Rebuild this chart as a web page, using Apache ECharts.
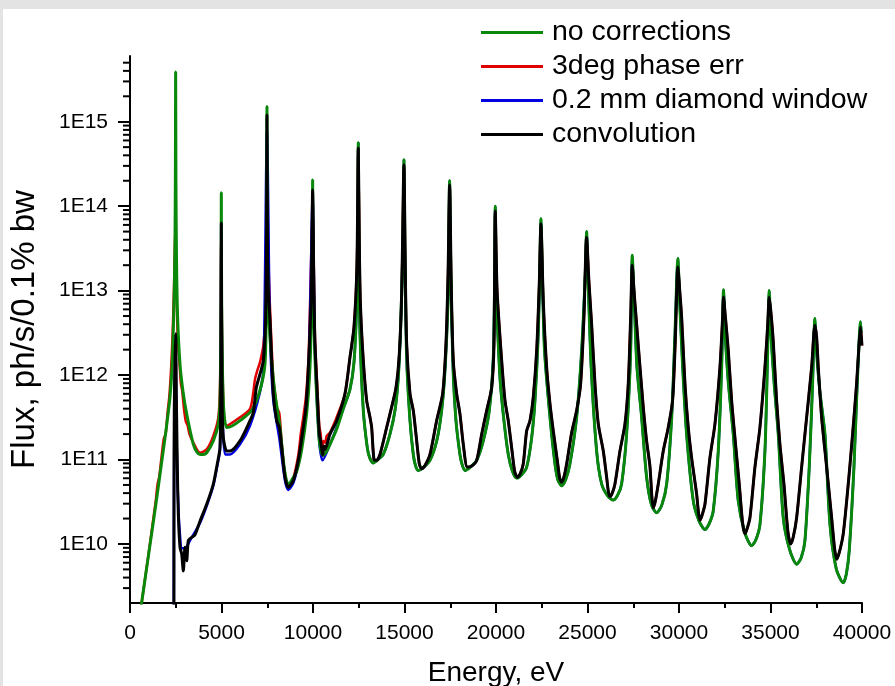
<!DOCTYPE html>
<html>
<head>
<meta charset="utf-8">
<script src="https://cdn.jsdelivr.net/npm/echarts@6.0.0/dist/echarts.min.js"></script>
<style>
  html, body { margin: 0; padding: 0; background: #e3e3e3; }
  #chart { position: absolute; left: 3px; top: 9px; width: 892px; height: 677px; background: #fff; }
</style>
</head>
<body>
<div id="chart"></div>
<script>
// flux values as [energy eV, log10(flux)]
const legendNames = ['no corrections', '3deg phase err', '0.2 mm diamond window', 'convolution']
const yDecades = [9, 10, 11, 12, 13, 14, 15]
const yMinorSteps = [2, 3, 4, 5, 6, 7, 8, 9]

const noCorrections = [
  [560, 9.18], [640, 9.31], [1000, 9.85], [1400, 10.45], [1732, 10.97], [2000, 11.4], [2186, 11.74],
  [2300, 12.1], [2366, 12.53], [2420, 13.0], [2459, 13.6], [2480, 14.4], [2495, 15.59], [2510, 14.3],
  [2540, 13.4], [2600, 12.7], [2732, 12.13], [2900, 11.8], [3098, 11.54], [3460, 11.18], [3650, 11.09],
  [3825, 11.06], [4000, 11.06], [4190, 11.08], [4552, 11.22], [4826, 11.42], [4920, 11.7], [4960, 12.3],
  [4980, 13.0], [4990, 14.16], [5005, 13.0], [5040, 12.2], [5120, 11.6], [5283, 11.38], [5600, 11.4],
  [6010, 11.46], [6650, 11.58], [7103, 11.82], [7376, 12.13], [7440, 12.7], [7470, 13.6], [7485, 15.18],
  [7500, 13.8], [7560, 12.8], [7742, 12.17], [7923, 11.78], [8196, 11.38], [8378, 10.99], [8520, 10.78],
  [8650, 10.7], [8900, 10.78], [9109, 10.86], [9382, 11.12], [9655, 11.55], [9835, 12.1], [9920, 12.8],
  [9965, 13.6], [9980, 14.31], [9995, 13.6], [10040, 12.8], [10108, 12.2], [10236, 11.6], [10345, 11.22],
  [10450, 11.09], [10560, 11.05], [10720, 11.09], [10928, 11.18], [11293, 11.36], [11655, 11.6],
  [12020, 11.83], [12240, 12.15], [12380, 12.8], [12450, 13.8], [12475, 14.75], [12500, 13.7],
  [12567, 12.5], [12750, 11.58], [12967, 11.14], [13100, 11.02], [13295, 10.96], [13550, 11.0],
  [13840, 11.06], [14206, 11.3], [14480, 11.58], [14660, 11.97], [14790, 12.57], [14920, 13.6],
  [14970, 14.55], [15020, 13.5], [15118, 12.2], [15300, 11.46], [15480, 11.06], [15600, 10.93],
  [15752, 10.87], [16000, 10.9], [16390, 10.99], [16760, 11.22], [17030, 11.58], [17210, 12.05],
  [17380, 12.9], [17465, 14.3], [17530, 13.2], [17650, 12.1], [17813, 11.46], [18030, 11.06],
  [18150, 10.94], [18304, 10.87], [18600, 10.91], [18943, 10.99], [19304, 11.22], [19632, 11.58],
  [19852, 12.2], [19920, 13.0], [19960, 14.0], [20020, 13.0], [20217, 11.97], [20435, 11.46],
  [20670, 11.06], [20900, 10.86], [21128, 10.78], [21400, 10.82], [21676, 10.91], [21950, 11.26],
  [22130, 11.7], [22310, 12.49], [22400, 13.3], [22455, 13.85], [22520, 13.3], [22650, 12.3],
  [22950, 11.5], [23222, 10.95], [23380, 10.76], [23590, 10.69], [23820, 10.77], [24042, 10.95],
  [24406, 11.5], [24680, 12.29], [24880, 13.2], [24950, 13.7], [25020, 13.2], [25200, 12.1],
  [25500, 11.1], [25773, 10.71], [26100, 10.57], [26408, 10.52], [26650, 10.58], [26864, 10.71],
  [27137, 11.3], [27358, 12.29], [27445, 13.42], [27550, 12.9], [27700, 12.1], [27958, 11.5],
  [28230, 10.79], [28500, 10.46], [28780, 10.37], [29060, 10.46], [29326, 10.71], [29600, 11.5],
  [29780, 12.49], [29940, 13.38], [30030, 12.9], [30200, 12.1], [30415, 11.3], [30780, 10.51],
  [31100, 10.27], [31420, 10.17], [31650, 10.24], [31870, 10.39], [32145, 11.1], [32330, 12.09],
  [32435, 13.01], [32520, 12.5], [32700, 11.9], [32965, 11.3], [33237, 10.51], [33600, 10.13],
  [33970, 9.98], [34200, 10.05], [34423, 10.23], [34696, 11.1], [34825, 12.09], [34930, 13.0],
  [35020, 12.5], [35200, 11.9], [35424, 11.3], [35697, 10.31], [36050, 9.93], [36430, 9.76],
  [36680, 9.84], [36882, 10.04], [37117, 10.91], [37300, 11.9], [37425, 12.67], [37510, 12.3],
  [37700, 11.8], [37975, 11.3], [38250, 10.23], [38600, 9.7], [38975, 9.54], [39150, 9.65],
  [39302, 9.92], [39560, 10.91], [39740, 11.9], [39920, 12.63], [39960, 12.5]
]

const convolution = [
  [2400, 9.0], [2405, 10.5], [2420, 11.6], [2460, 12.2], [2495, 12.49], [2530, 11.8], [2586, 10.91],
  [2641, 10.35], [2732, 9.96], [2825, 9.88], [2913, 9.68], [3005, 9.96], [3098, 9.8], [3186, 10.04],
  [3316, 10.07], [3552, 10.11], [3825, 10.27], [4190, 10.47], [4552, 10.71], [4771, 10.95],
  [4918, 11.14], [4960, 11.8], [4980, 12.8], [4990, 13.8], [5005, 12.6], [5040, 11.6], [5100, 11.26],
  [5283, 11.1], [5464, 11.1], [6010, 11.22], [6557, 11.46], [6740, 11.56], [6900, 11.85],
  [7103, 12.01], [7285, 12.17], [7400, 12.6], [7460, 13.5], [7485, 15.08], [7510, 13.6], [7560, 13.0],
  [7650, 12.65], [7830, 11.78], [8015, 11.46], [8160, 11.38], [8289, 11.14], [8469, 10.79],
  [8650, 10.67], [8923, 10.75], [9196, 10.99], [9469, 11.38], [9617, 11.62], [9764, 12.17],
  [9906, 12.96], [9980, 14.19], [10050, 13.0], [10108, 12.37], [10236, 11.78], [10345, 11.3],
  [10420, 11.22], [10528, 11.05], [10600, 11.16], [10655, 11.12], [10928, 11.3], [11293, 11.46],
  [11748, 11.78], [12020, 12.21], [12240, 12.57], [12400, 13.3], [12475, 14.69], [12540, 13.4],
  [12604, 12.77], [12750, 12.17], [12932, 11.7], [13114, 11.5], [13206, 11.38], [13332, 11.0],
  [13480, 10.99], [13660, 11.06], [14026, 11.38], [14206, 11.54], [14534, 11.85], [14716, 12.25],
  [14845, 12.96], [14970, 14.49], [15040, 13.3], [15118, 12.37], [15300, 11.78], [15480, 11.58],
  [15627, 11.3], [15808, 10.95], [15935, 10.89], [16120, 10.93], [16392, 11.06], [16756, 11.46],
  [17085, 11.78], [17266, 12.37], [17380, 13.2], [17465, 14.25], [17560, 13.0], [17666, 12.17],
  [17850, 11.78], [18030, 11.54], [18212, 11.18], [18431, 10.91], [18650, 10.92], [18943, 10.99],
  [19217, 11.3], [19490, 11.58], [19764, 11.85], [19890, 12.37], [19960, 13.94], [20060, 13.0],
  [20310, 12.17], [20490, 11.7], [20670, 11.46], [20855, 11.14], [21020, 10.86], [21164, 10.79],
  [21320, 10.83], [21490, 10.95], [21676, 11.34], [21856, 11.46], [22037, 11.74], [22222, 12.29],
  [22365, 13.08], [22455, 13.79], [22583, 12.88], [22768, 12.09], [22950, 11.66], [23130, 11.34],
  [23350, 10.99], [23480, 10.78], [23590, 10.73], [23720, 10.8], [23862, 10.95], [24135, 11.32],
  [24406, 11.58], [24626, 11.9], [24807, 12.69], [24950, 13.63], [25080, 13.1], [25226, 12.6],
  [25408, 11.9], [25590, 11.42], [25863, 11.1], [26046, 10.79], [26140, 10.62], [26227, 10.56],
  [26350, 10.6], [26500, 10.71], [26774, 11.1], [27047, 11.42], [27228, 11.9], [27360, 12.7],
  [27445, 13.3], [27540, 13.0], [27686, 12.6], [27866, 12.1], [28048, 11.62], [28230, 11.22],
  [28412, 10.92], [28520, 10.55], [28594, 10.43], [28700, 10.5], [28867, 10.71], [29140, 11.1],
  [29413, 11.38], [29650, 11.7], [29796, 12.4], [29940, 13.28], [30040, 13.0], [30143, 12.69],
  [30325, 11.9], [30506, 11.38], [30690, 11.02], [30964, 10.59], [31060, 10.38], [31145, 10.28],
  [31260, 10.34], [31418, 10.47], [31690, 11.02], [31964, 11.42], [32237, 12.09], [32385, 12.69],
  [32435, 12.92], [32530, 12.7], [32690, 12.3], [32875, 11.7], [33056, 11.26], [33292, 10.71],
  [33480, 10.24], [33600, 10.12], [33720, 10.18], [33876, 10.31], [34150, 10.91], [34423, 11.38],
  [34696, 12.09], [34850, 12.6], [34930, 12.92], [35020, 12.75], [35150, 12.4], [35333, 11.7],
  [35515, 11.18], [35734, 10.71], [35950, 10.15], [36100, 10.0], [36240, 10.08], [36428, 10.31],
  [36701, 10.91], [36937, 11.42], [37247, 12.09], [37425, 12.59], [37520, 12.45], [37612, 12.09],
  [37794, 11.5], [38067, 10.91], [38341, 10.31], [38500, 9.95], [38614, 9.82], [38760, 9.9],
  [38975, 10.12], [39249, 10.71], [39486, 11.3], [39705, 11.9], [39850, 12.4], [39920, 12.57],
  [39997, 12.35]
]

// phase error: visible below ~11.5 keV, hidden under the convolution curve above it
const phaseErrLow = [
  [560, 9.18], [640, 9.31], [1000, 9.86], [1400, 10.5], [1500, 10.7], [1600, 10.8], [1732, 11.05],
  [1850, 11.25], [1950, 11.3], [2050, 11.55], [2150, 11.75], [2250, 12.1], [2330, 12.5], [2400, 13.0],
  [2440, 13.4], [2470, 13.71], [2500, 13.5], [2540, 13.0], [2600, 12.5], [2700, 12.15], [2780, 11.9],
  [2850, 11.82], [2950, 11.6], [3050, 11.45], [3150, 11.4], [3250, 11.3], [3460, 11.2], [3825, 11.08],
  [4190, 11.12], [4552, 11.28], [4826, 11.5], [4920, 11.9], [4990, 13.6], [5060, 12.0], [5283, 11.4],
  [6010, 11.5], [6557, 11.6], [6740, 11.8], [6830, 11.95], [6950, 12.05], [7103, 12.15],
  [7285, 12.35], [7400, 12.7], [7485, 14.4], [7560, 13.4], [7650, 12.8], [7830, 11.95], [7950, 11.75],
  [8015, 11.62], [8160, 11.55], [8289, 11.2], [8469, 10.82], [8650, 10.69], [8923, 10.78],
  [9196, 11.05], [9330, 11.3], [9469, 11.5], [9617, 11.75], [9764, 12.25], [9980, 13.9],
  [10108, 12.45], [10236, 11.85], [10345, 11.4], [10420, 11.3], [10500, 11.1], [10560, 11.22],
  [10655, 11.2], [10750, 11.28], [10928, 11.32], [11293, 11.5]
]

// diamond window: visible below ~11.5 keV, hidden under the uncorrected curve above it
const diamondLow = [
  [2395, 9.0], [2400, 10.3], [2420, 11.5], [2470, 12.3], [2495, 12.45], [2530, 11.5], [2600, 10.7],
  [2700, 10.2], [2850, 9.95], [3000, 9.95], [3300, 10.05], [3825, 10.25], [4190, 10.45],
  [4552, 10.69], [4771, 10.93], [4918, 11.12], [4990, 13.6], [5060, 11.5], [5200, 11.06],
  [5464, 11.06], [6010, 11.18], [6557, 11.4], [7103, 11.8], [7300, 12.1], [7485, 14.9], [7650, 12.5],
  [7830, 11.7], [8160, 11.25], [8469, 10.75], [8650, 10.64], [8923, 10.72], [9196, 10.95],
  [9469, 11.3], [9764, 12.1], [9980, 14.1], [10108, 12.3], [10345, 11.2], [10528, 10.99],
  [10928, 11.18], [11293, 11.38]
]

const phaseErr = phaseErrLow.concat(convolution.filter(p => p[0] > 11300))
const diamond = diamondLow.concat(noCorrections.filter(p => p[0] > 11300))

const toFlux = arr => arr.map(p => [p[0], Math.pow(10, p[1])])

const yMin = 2e9
const yMax = 6e15
const minorTicks = []
yDecades.forEach(d => yMinorSteps.forEach(m => {
  const v = m * Math.pow(10, d)
  if (v > yMin && v < yMax) minorTicks.push([0, v])
}))

const font = '"Liberation Sans", Arial, sans-serif'
const smooth = 0.25

const chart = echarts.init(document.getElementById('chart'))
chart.setOption({
  animation: false,
  backgroundColor: '#fff',
  grid: { left: 127, right: 33, top: 47, bottom: 83, outerBoundsMode: 'none' },
  legend: {
    data: legendNames,
    orient: 'vertical',
    left: 478,
    top: 9,
    padding: 0,
    itemWidth: 62,
    itemHeight: 3,
    itemGap: 5,
    icon: 'rect',
    textStyle: { fontFamily: font, fontSize: 28.5, color: '#000', padding: [0, 0, 0, 4] },
  },
  xAxis: {
    type: 'value',
    min: 0,
    max: 40000,
    interval: 5000,
    name: 'Energy, eV',
    nameLocation: 'middle',
    nameGap: 56,
    nameTextStyle: { fontFamily: font, fontSize: 28, color: '#000' },
    axisLine: { lineStyle: { color: '#000', width: 2 } },
    axisTick: { length: 10, lineStyle: { color: '#000', width: 2 } },
    minorTick: { show: true, splitNumber: 2, length: 5, lineStyle: { color: '#000', width: 2 } },
    axisLabel: { fontFamily: font, fontSize: 21, color: '#000', margin: 20, formatter: v => String(v) },
    splitLine: { show: false },
  },
  yAxis: {
    type: 'log',
    logBase: 10,
    min: yMin,
    max: yMax,
    splitNumber: 7,
    name: 'Flux, ph/s/0.1% bw',
    nameLocation: 'middle',
    nameGap: 89,
    nameTextStyle: { fontFamily: font, fontSize: 33, color: '#000' },
    axisLine: { show: true, lineStyle: { color: '#000', width: 2 } },
    axisTick: { show: true, length: 12, lineStyle: { color: '#000', width: 2 } },
    axisLabel: {
      fontFamily: font, fontSize: 21, color: '#000', margin: 22,
      showMinLabel: false, showMaxLabel: false,
      formatter: v => '1E' + Math.round(Math.log10(v)),
    },
    splitLine: { show: false },
  },
  series: [
    {
      name: '3deg phase err', type: 'line', data: toFlux(phaseErr), showSymbol: false, symbol: 'none',
      smooth, lineStyle: { color: '#e00000', width: 2.5 }, itemStyle: { color: '#e00000' }, z: 2,
    },
    {
      name: '0.2 mm diamond window', type: 'line', data: toFlux(diamond), showSymbol: false, symbol: 'none',
      smooth, lineStyle: { color: '#0000e0', width: 2.5 }, itemStyle: { color: '#0000e0' }, z: 3,
    },
    {
      name: 'no corrections', type: 'line', data: toFlux(noCorrections), showSymbol: false, symbol: 'none',
      smooth, lineStyle: { color: '#0a880a', width: 3 }, itemStyle: { color: '#0a880a' }, z: 4,
    },
    {
      name: 'convolution', type: 'line', data: toFlux(convolution), showSymbol: false, symbol: 'none',
      smooth, lineStyle: { color: '#000', width: 3 }, itemStyle: { color: '#000' }, z: 5,
    },
    {
      // log-spaced minor ticks on the flux axis
      type: 'custom', silent: true, clip: false, z: 6,
      data: minorTicks,
      encode: { x: 0, y: 1 },
      renderItem: (params, api) => {
        const p = api.coord([0, api.value(1)])
        return {
          type: 'line',
          shape: { x1: p[0] - 7, y1: p[1], x2: p[0], y2: p[1] },
          style: { stroke: '#000', lineWidth: 2 },
        }
      },
    },
  ],
})
</script>
</body>
</html>
